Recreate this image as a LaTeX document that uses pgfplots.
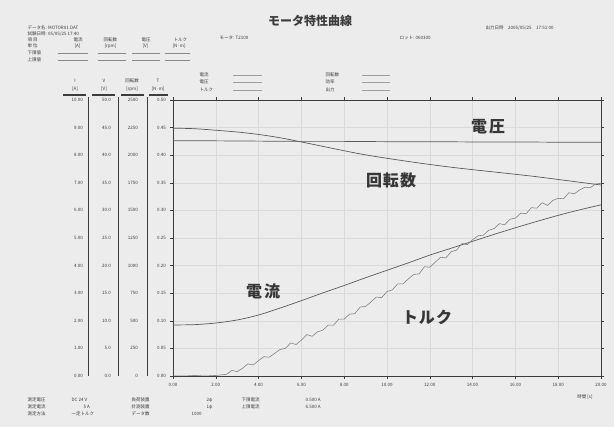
\documentclass[border=0pt]{standalone}
\usepackage{fontspec}
\setmainfont{Noto Sans CJK JP}
\usepackage{pgfplots}
\pgfplotsset{compat=1.18}
\definecolor{paper}{RGB}{236,236,236}
\definecolor{ink}{RGB}{60,60,60}
\definecolor{curve}{RGB}{90,90,90}
\definecolor{gridc}{RGB}{218,218,218}
\begin{document}
\begin{tikzpicture}[x=1pt,y=1pt]
\fill[paper] (0,0) rectangle (614,427);
\pgfplotsset{
 base/.style={at={(173pt,51pt)}, anchor=south west, width=428pt, height=276pt, scale only axis,
   xmin=0, xmax=20, ymin=0,
   /pgf/number format/assume math mode=true,
   /pgf/number format/set thousands separator={},
   tick label style={font=\fontsize{4.5}{5}\selectfont, text=ink}},
 over/.style={base, axis line style={draw=none}, xtick=\empty, major tick length=0pt, grid=none}
}
% current axis (0-10 A)
\begin{axis}[base, ymax=10, xtick={0,2,...,20}, ytick={0,1,...,10},
  grid=major, grid style={gridc, line width=0.3pt},
  axis line style={ink, line width=0.6pt}, tick style={ink, line width=0.4pt},
  major tick length=3pt, tick align=outside,
  xticklabel={\pgfmathprintnumber[fixed,fixed zerofill,precision=2]{\tick}},
  yticklabel={\pgfmathprintnumber[fixed,fixed zerofill,precision=2]{\tick}},
  yticklabel style={xshift=-83.5pt}, xticklabel style={yshift=-1pt}]
\addplot[curve, line width=0.7pt, smooth] coordinates {
(0,1.85)(1,1.86)(2,1.92)(3,2.03)(4,2.21)(5,2.46)(6,2.73)(7,3.01)(8,3.28)(9,3.56)(10,3.83)
(11,4.10)(12,4.38)(13,4.63)(14,4.88)(15,5.13)(16,5.37)(17,5.60)(18,5.82)(19,6.02)(20,6.20)};
\end{axis}
% voltage axis (0-50 V)
\begin{axis}[over, ymax=50, ytick={0,5,...,50},
  yticklabel={\pgfmathprintnumber[fixed,fixed zerofill,precision=1]{\tick}},
  yticklabel style={xshift=-58.5pt}]
\addplot[curve, line width=0.7pt] coordinates {
(0,42.6)(2,42.6)(4,42.55)(6,42.5)(8,42.5)(10,42.45)(12,42.45)(14,42.4)(16,42.4)(18,42.35)(20,42.35)};
\end{axis}
% rpm axis (0-2500)
\begin{axis}[over, ymax=2500, ytick={0,250,...,2500},
  yticklabel={\pgfmathprintnumber[fixed,precision=0]{\tick}},
  yticklabel style={xshift=-31.5pt}]
\addplot[curve, line width=0.7pt, smooth] coordinates {
(0,2245)(1,2240)(2,2226)(3,2210)(4,2188)(5,2158)(6,2120)(7,2080)(8,2040)(9,2003)(10,1972)
(11,1943)(12,1916)(13,1891)(14,1869)(15,1848)(16,1827)(17,1805)(18,1780)(19,1755)(20,1730)};
\end{axis}
% torque axis (0-0.5)
\begin{axis}[over, ymax=0.5, ytick={0,0.05,0.1,0.15,0.2,0.25,0.3,0.35,0.4,0.45,0.5},
  yticklabel={\pgfmathprintnumber[fixed,fixed zerofill,precision=2]{\tick}},
  yticklabel style={xshift=-3.5pt}]
\addplot[curve!80, line width=0.55pt] coordinates {
(0,0)(0.5,0)(1,0.001)(1.5,0)(2,0.001)(2.25,0.002)(2.5,0.003)(2.75,0.010)(3,0.008)(3.25,0.014)
(3.5,0.022)(3.75,0.020)(4,0.028)(4.25,0.035)(4.5,0.034)(4.75,0.041)(5,0.048)(5.25,0.050)
(5.5,0.060)(5.75,0.057)(6,0.065)(6.25,0.075)(6.5,0.072)(6.75,0.080)(7,0.083)(7.25,0.092)
(7.5,0.092)(7.75,0.103)(8,0.103)(8.25,0.112)(8.5,0.113)(8.75,0.125)(9,0.126)(9.25,0.134)
(9.5,0.143)(9.75,0.142)(10,0.153)(10.25,0.156)(10.5,0.167)(10.75,0.167)(11,0.176)(11.25,0.184)
(11.5,0.185)(11.75,0.198)(12,0.197)(12.25,0.206)(12.5,0.215)(12.75,0.214)(13,0.225)(13.25,0.228)
(13.5,0.240)(13.75,0.238)(14,0.247)(14.25,0.254)(14.5,0.255)(14.75,0.264)(15,0.267)(15.25,0.276)
(15.5,0.274)(15.75,0.284)(16,0.286)(16.25,0.295)(16.5,0.294)(16.75,0.305)(17,0.304)(17.25,0.314)
(17.5,0.309)(17.75,0.318)(18,0.322)(18.25,0.321)(18.5,0.332)(18.75,0.330)(19,0.337)(19.25,0.342)
(19.5,0.341)(19.75,0.348)(20,0.349)};
\end{axis}
% column dividers and headers
\draw[ink, line width=0.6pt] (88,51) -- (88,330) (118,51) -- (118,330) (147,51) -- (147,330);
\draw[ink, line width=1.3pt] (63,332) -- (86,332) (92,332) -- (115,332) (121,332) -- (144,332) (149,332) -- (168,332);
\begin{scope}[font=\fontsize{4.5}{5}\selectfont, text=ink]
\node at (75,346) {I}; \node at (75,338) {[A]};
\node at (104,346) {V}; \node at (104,338) {[V]};
\node at (132,346) {回転数}; \node at (132,338) {[rpm]};
\node at (158,346) {T}; \node at (158,338) {[N·m]};
\end{scope}
% title and header texts
\node[font=\fontsize{12}{14}\selectfont\bfseries, text=ink] at (310,406) {モータ特性曲線};
\begin{scope}[font=\fontsize{4.5}{5}\selectfont, text=ink]
\node[anchor=west] at (24,399) {データ名: MOTOR01.DAT};
\node[anchor=west] at (24,393) {試験日時: 05/05/25 17:40};
\node[anchor=west] at (24,387) {項 目};
\node[anchor=west] at (70,387) {電流}; \node[anchor=west] at (100,387) {回転数};
\node[anchor=west] at (138,387) {電圧}; \node[anchor=west] at (170,387) {トルク};
\node[anchor=west] at (24,381) {単 位};
\node[anchor=west] at (71,381) {[A]}; \node[anchor=west] at (101,381) {[rpm]};
\node[anchor=west] at (139,381) {[V]}; \node[anchor=west] at (169,381) {[N·m]};
\node[anchor=west] at (24,374) {下限値};
\node[anchor=west] at (24,367) {上限値};
\node[anchor=west] at (216,389) {モータ: T2100};
\node[anchor=west] at (396,389) {ロット: 060300};
\node[anchor=west] at (482,399) {出力日時\quad 2005/05/25\quad 17:51:00};
\end{scope}
\draw[ink!60, line width=0.4pt] (58,374) -- (88,374) (98,374) -- (126,374) (132,374) -- (160,374) (165,374) -- (190,374)
  (58,367) -- (88,367) (98,367) -- (126,367) (132,367) -- (160,367) (165,367) -- (190,367);
% small legend-like blocks above the plot
\begin{scope}[font=\fontsize{4.5}{5}\selectfont, text=ink]
\node[anchor=west] at (196,352) {電流}; \node[anchor=west] at (196,345) {電圧}; \node[anchor=west] at (196,337) {トルク};
\node[anchor=west] at (322,352) {回転数}; \node[anchor=west] at (322,345) {効率}; \node[anchor=west] at (322,337) {出力};
\end{scope}
\draw[ink!50, line width=0.4pt] (233,352) -- (262,352) (233,345) -- (262,345) (233,337) -- (262,337)
  (362,352) -- (390,352) (362,345) -- (390,345) (362,337) -- (390,337);
% curve names
\begin{scope}[font=\fontsize{16}{18}\selectfont\bfseries, text=ink!90!black]
\node at (488,300) {電\hspace{2pt}圧};
\node at (391,247) {回\hspace{1pt}転\hspace{1pt}数};
\node at (263,136) {電\hspace{2pt}流};
\node at (427,110) {ト\hspace{1pt}ル\hspace{1pt}ク};
\end{scope}
% x label and bottom texts
\node[font=\fontsize{4.5}{5}\selectfont, text=ink] at (585,30) {時間 [s]};
\begin{scope}[font=\fontsize{4.5}{5}\selectfont, text=ink]
\node[anchor=west] at (24,27) {測定電圧}; \node[anchor=west] at (68,27) {DC 24 V}; \node[anchor=west] at (128,27) {負荷装置};
\node[anchor=west] at (203,27) {2φ}; \node[anchor=west] at (238,27) {下限電流}; \node[anchor=west] at (302,27) {0.500 A};
\node[anchor=west] at (24,20) {測定電流}; \node[anchor=west] at (80,20) {5 A}; \node[anchor=west] at (128,20) {計測装置};
\node[anchor=west] at (203,20) {1φ}; \node[anchor=west] at (238,20) {上限電流}; \node[anchor=west] at (302,20) {6.500 A};
\node[anchor=west] at (24,13) {測定方法}; \node[anchor=west] at (68,13) {一定トルク}; \node[anchor=west] at (128,13) {データ数};
\node[anchor=west] at (188,13) {1000};
\end{scope}
\end{tikzpicture}
\end{document}
